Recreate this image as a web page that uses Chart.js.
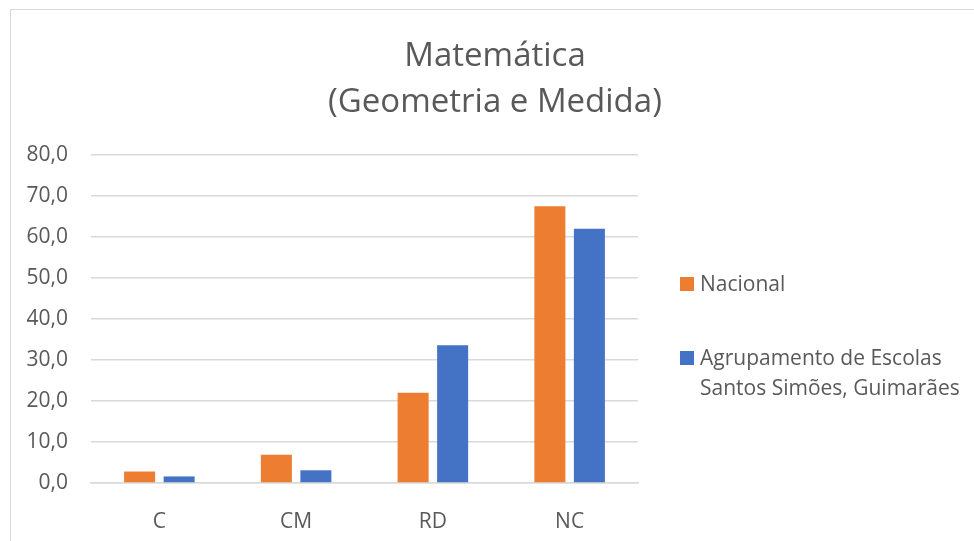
<!DOCTYPE html>
<html>
<head>
<meta charset="utf-8">
<script src="https://cdn.jsdelivr.net/npm/chart.js@4"></script>
<style>
  body { margin: 0; background: #fff; }
  #wrap { position: relative; width: 974px; height: 541px; overflow: hidden; font-family: "Open Sans", sans-serif; color: #595959; }
  #frame { position: absolute; left: 10px; top: 9px; width: 980px; height: 560px; border: 1px solid #d9d9d9; box-sizing: border-box; }
  #grafico { position: absolute; left: 0; top: 0; }
  #titulo { position: absolute; left: 0; top: 31px; width: 990px; text-align: center; font-size: 33px; line-height: 46px; }
  #legenda { position: absolute; left: 680px; top: 268px; font-size: 21px; line-height: 30px; }
  .item { position: relative; padding-left: 20px; }
  .item span { position: absolute; left: 0; top: 9px; width: 14px; height: 14px; }
</style>
</head>
<body>
<div id="wrap">
  <div id="frame"></div>
  <canvas id="grafico" width="974" height="541"></canvas>
  <div id="titulo"></div>
  <div id="legenda"></div>
</div>
<script>
const categorias = ["C", "CM", "RD", "NC"];
const nacional = [2.8, 6.9, 22.0, 67.5];
const agrupamento = [1.6, 3.1, 33.6, 62.0];
const series = [
    { nome: "Nacional", cor: "#ED7D31", valores: nacional },
    { nome: "Agrupamento de Escolas\nSantos Simões, Guimarães", cor: "#4472C4", valores: agrupamento }
];
const titulo = ["Matemática", "(Geometria e Medida)"];

const cinza = "#595959";

// título e legenda em HTML
document.getElementById("titulo").innerHTML = titulo.join("<br>");

const leg = document.getElementById("legenda");
series.forEach((s, i) => {
    const d = document.createElement("div");
    d.className = "item";
    d.style.marginTop = i ? "44px" : "0";
    d.innerHTML = '<span style="background:' + s.cor + '"></span>' + s.nome.replace("\n", "<br>");
    leg.appendChild(d);
});

new Chart(document.getElementById("grafico"), {
    type: "bar",
    data: {
        labels: categorias,
        datasets: series.map(s => ({
            label: s.nome,
            data: s.valores,
            backgroundColor: s.cor,
            categoryPercentage: 0.578,
            barPercentage: 0.785
        }))
    },
    options: {
        responsive: false,
        animation: false,
        layout: { padding: { left: 0, right: 336, top: 155, bottom: 0 } },
        plugins: {
            legend: { display: false },
            tooltip: { enabled: false },
            title: { display: false }
        },
        scales: {
            x: {
                grid: { display: false },
                border: { color: "#d9d9d9", width: 1.5 },
                ticks: { color: cinza, font: { family: "Open Sans", size: 21 }, padding: 18 },
                afterFit: s => { s.height = 58; }
            },
            y: {
                min: 0,
                max: 80,
                border: { display: false },
                grid: { color: "#d9d9d9", lineWidth: 1.5, drawTicks: false },
                ticks: {
                    stepSize: 10,
                    color: cinza,
                    padding: 23,
                    font: { family: "Open Sans", size: 21 },
                    callback: v => v.toFixed(1).replace(".", ",")
                },
                afterFit: s => { s.width = 91; }
            }
        }
    }
});
</script>
</body>
</html>
